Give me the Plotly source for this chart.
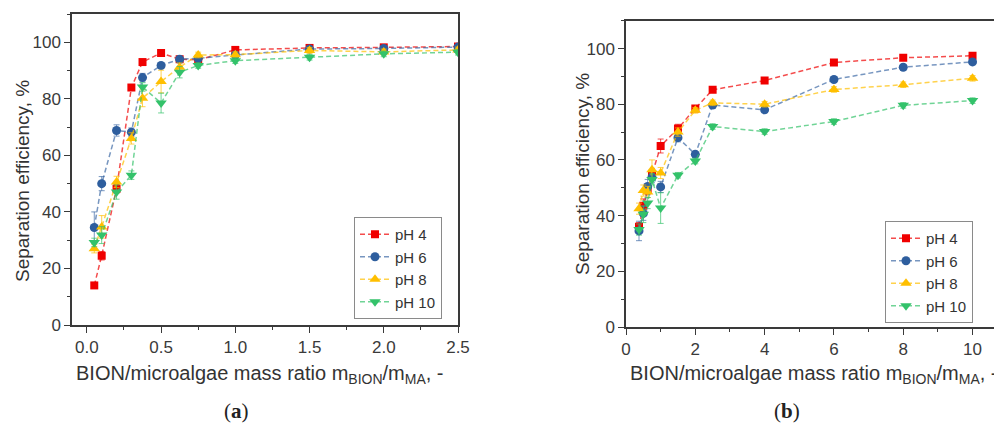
import plotly.graph_objects as go

# page body adds an 8px margin; figure is sized so it ends at the window edge
OFF = 8
W, H = 1002 - OFF, 429 - OFF

# ---------------- data ----------------
labels = ["pH 4", "pH 6", "pH 8", "pH 10"]

xa = [0.05, 0.1, 0.2, 0.3, 0.375, 0.5, 0.625, 0.75, 1.0, 1.5, 2.0, 2.5]
a_ph4 = [14.0, 24.5, 48.2, 84.0, 93.0, 96.2, 94.0, 93.8, 97.3, 98.0, 98.2, 98.5]
a_ph6 = [34.5, 50.0, 68.8, 68.2, 87.5, 91.8, 94.0, 94.3, 95.5, 97.6, 97.8, 98.3]
a_ph8 = [27.0, 34.7, 50.6, 66.0, 80.2, 86.1, 91.2, 95.5, 95.6, 97.1, 96.6, 97.3]
a_ph10 = [29.2, 31.8, 47.0, 53.0, 84.2, 78.5, 89.4, 91.8, 93.5, 94.7, 95.9, 96.5]
a_ph4_err = [1, 1.5, 1.5, 1, 1, 1, 1, 1, 1, 1, 1, 1]
a_ph6_err = [5.5, 2.5, 2, 1.5, 1.5, 1, 1, 1, 1, 1, 1, 1]
a_ph8_err = [1.5, 4, 2, 2, 3, 4, 1.5, 1, 1, 1, 1, 1]
a_ph10_err = [1.5, 3, 2.5, 1.5, 1.5, 3.5, 2, 1, 1, 1, 1, 1]

xb = [0.375, 0.5, 0.625, 0.75, 1.0, 1.5, 2.0, 2.5, 4, 6, 8, 10]
b_ph4 = [36.0, 43.5, 49.5, 54.5, 65.0, 71.3, 78.5, 85.2, 88.5, 95.0, 96.7, 97.4]
b_ph6 = [34.5, 40.8, 50.5, 53.8, 50.3, 68.0, 62.0, 79.7, 78.0, 88.9, 93.3, 95.2]
b_ph8 = [42.5, 49.0, 48.5, 56.5, 55.3, 70.0, 77.8, 80.5, 80.0, 85.3, 87.0, 89.3]
b_ph10 = [35.0, 40.5, 44.5, 53.0, 42.7, 54.5, 59.6, 72.0, 70.2, 73.8, 79.6, 81.3]
b_ph4_err = [1.5, 2.5, 2, 1.5, 2.5, 1.5, 1, 1, 1, 1, 1, 1]
b_ph6_err = [3.5, 2.5, 2.5, 2, 2, 1.5, 1, 1, 1, 1, 1, 1]
b_ph8_err = [2, 2, 2, 3.5, 2, 1.5, 1, 1, 1, 1, 1, 1]
b_ph10_err = [2, 3, 2, 2, 5.5, 1, 1, 1, 1, 1, 1, 1]

xa_ticks = [0.0, 0.5, 1.0, 1.5, 2.0, 2.5]
xb_ticks = [0, 2, 4, 6, 8, 10]
y_ticks = [0, 20, 40, 60, 80, 100]

# ---------------- styles ----------------
colors = ["#f00000", "#2e5e9e", "#ffbf00", "#33c26a"]
lcolors = ["rgba(240,0,0,0.7)", "rgba(46,94,158,0.65)", "rgba(255,191,0,0.7)", "rgba(51,194,106,0.7)"]
symbols = ["square", "circle", "triangle-up", "triangle-down"]
sizes = [8, 9, 10, 10]
FONT = "Arial, 'Liberation Sans', sans-serif"
AX = "#3a3a3a"

fig = go.Figure()

series_a = [a_ph4, a_ph6, a_ph8, a_ph10]
err_a = [a_ph4_err, a_ph6_err, a_ph8_err, a_ph10_err]
series_b = [b_ph4, b_ph6, b_ph8, b_ph10]
err_b = [b_ph4_err, b_ph6_err, b_ph8_err, b_ph10_err]

for i in range(4):
    fig.add_trace(go.Scatter(
        x=xa, y=series_a[i], name=labels[i], mode="lines+markers",
        xaxis="x", yaxis="y", legend="legend",
        line=dict(color=lcolors[i], width=1.5, dash="5px,3px"),
        marker=dict(symbol=symbols[i], size=sizes[i], color=colors[i]),
        error_y=dict(type="data", array=err_a[i], visible=True, color=lcolors[i], thickness=1, width=3),
    ))
for i in range(4):
    fig.add_trace(go.Scatter(
        x=xb, y=series_b[i], name=labels[i], mode="lines+markers",
        xaxis="x2", yaxis="y2", legend="legend2",
        line=dict(color=lcolors[i], width=1.5, dash="5px,3px"),
        marker=dict(symbol=symbols[i], size=sizes[i], color=colors[i]),
        error_y=dict(type="data", array=err_b[i], visible=True, color=lcolors[i], thickness=1, width=3),
    ))

def px(x):
    return (x - OFF) / W

def py(y):
    return 1 - (y - OFF) / H

tickfont = dict(family=FONT, size=17, color="#3a3a3a")
common_axis = dict(showgrid=False, zeroline=False, showline=True, linecolor=AX, linewidth=1.5,
                   ticks="outside", ticklen=6, tickwidth=1.2, tickcolor=AX, tickfont=tickfont,
                   automargin=False)

fig.update_layout(
    width=W, height=H,
    margin=dict(l=0, r=0, t=0, b=0),
    paper_bgcolor="white", plot_bgcolor="white",
    xaxis=dict(domain=[px(72), px(458)], range=[-0.1, 2.5], anchor="y",
               tickvals=xa_ticks, ticktext=[f"{v:.1f}" for v in xa_ticks],
               minor=dict(dtick=0.25, tick0=0, ticks="outside", ticklen=3, tickcolor=AX),
               mirror=True, **common_axis),
    yaxis=dict(domain=[py(325), py(14)], range=[0, 110], anchor="x",
               tickvals=y_ticks,
               minor=dict(dtick=10, tick0=0, ticks="outside", ticklen=3, tickcolor=AX),
               mirror=True, **common_axis),
    xaxis2=dict(domain=[px(626), 1.0], range=[0, 10.85], anchor="y2",
                tickvals=xb_ticks,
                minor=dict(dtick=1, tick0=0, ticks="outside", ticklen=3, tickcolor=AX),
                mirror=True, **common_axis),
    yaxis2=dict(domain=[py(327), py(20.7)], range=[0, 110], anchor="x2",
                tickvals=y_ticks,
                minor=dict(dtick=10, tick0=0, ticks="outside", ticklen=3, tickcolor=AX),
                mirror=False, **common_axis),
    legend=dict(x=px(354), y=py(268), xanchor="left", yanchor="middle",
                bgcolor="white", bordercolor="#8a8a8a", borderwidth=1,
                font=dict(family=FONT, size=15, color="#333333"), tracegroupgap=0,
                itemwidth=30),
    legend2=dict(x=px(885), y=py(272), xanchor="left", yanchor="middle",
                 bgcolor="white", bordercolor="#8a8a8a", borderwidth=1,
                 font=dict(family=FONT, size=15, color="#333333"), tracegroupgap=0,
                 itemwidth=30),
)

xtitle = "BION/microalgae mass ratio m<sub>BION</sub>/m<sub>MA</sub>, -"
ytitle = "Separation efficiency, %"
ann = [
    dict(x=px(260), y=py(374), text=xtitle, font=dict(family=FONT, size=20, color="#333333")),
    dict(x=px(814), y=py(374), text=xtitle, font=dict(family=FONT, size=20, color="#333333")),
    dict(x=px(22), y=py(181), text=ytitle, font=dict(family=FONT, size=19, color="#333333"), textangle=-90),
    dict(x=px(582), y=py(174), text=ytitle, font=dict(family=FONT, size=19, color="#333333"), textangle=-90),
    dict(x=px(236), y=py(411), text="(<b>a</b>)",
         font=dict(family="'Liberation Serif', 'DejaVu Serif', serif", size=21, color="#222222")),
    dict(x=px(787), y=py(411), text="(<b>b</b>)",
         font=dict(family="'Liberation Serif', 'DejaVu Serif', serif", size=21, color="#222222")),
]
for a in ann:
    a.update(xref="paper", yref="paper", showarrow=False, xanchor="center", yanchor="middle")
    fig.add_annotation(**a)

fig.write_html("out.html")
